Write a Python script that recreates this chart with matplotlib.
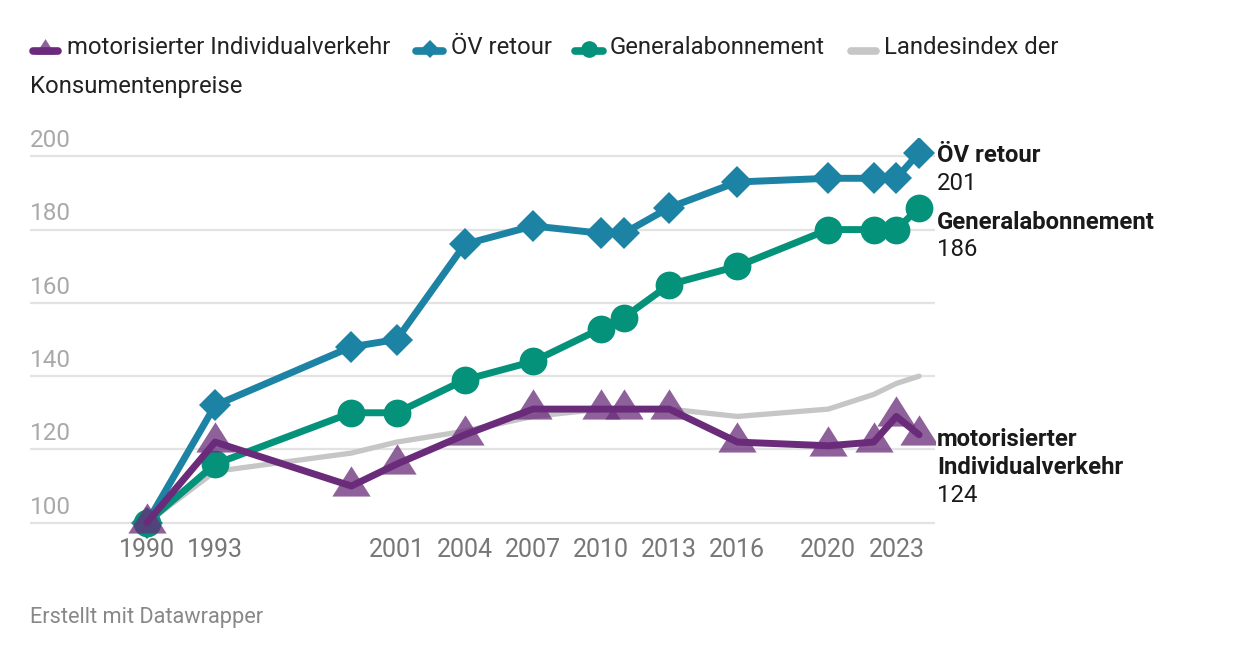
import matplotlib
matplotlib.use("Agg")
import matplotlib.pyplot as plt
from matplotlib.path import Path
from matplotlib.lines import Line2D
import matplotlib.transforms as mtransforms

plt.rcParams['font.family'] = ['Roboto', 'DejaVu Sans']

years = [1990, 1993, 1999, 2001, 2004, 2007, 2010, 2011, 2013, 2016, 2020, 2022, 2023, 2024]
oev_retour = [100, 132, 148, 150, 176, 181, 179, 179, 186, 193, 194, 194, 194, 201]
generalabo = [100, 116, 130, 130, 139, 144, 153, 156, 165, 170, 180, 180, 180, 186]
miv = [100, 122, 110, 116, 124, 131, 131, 131, 131, 122, 121, 122, 129, 124]
lik = [100, 114, 119, 122, 125, 129, 131, 131, 131, 129, 131, 135, 138, 140]

xtick_years = [1990, 1993, 2001, 2004, 2007, 2010, 2013, 2016, 2020, 2023]
ytick_vals = [100, 120, 140, 160, 180, 200]

series_names = ["motorisierter Individualverkehr", "ÖV retour", "Generalabonnement",
                "Landesindex der Konsumentenpreise"]

C_BLUE = '#1d83a4'
C_GREEN = '#05927a'
C_PURPLE = '#6a2c7a'
C_GREY = '#c6c6c6'

W, H = 1260, 660
fig = plt.figure(figsize=(W / 100, H / 100), dpi=100)

def px_x(x):
    return x / W

def px_y(y):
    return 1 - y / H

# axes: x 30..935 px, y 138..541 px
ax = fig.add_axes([px_x(30), px_y(541), px_x(935) - px_x(30), px_y(138) - px_y(541)])
ax.set_xlim(1984.85, 2024.7)
ax.set_ylim(95, 205)
ax.axis('off')

for v in ytick_vals:
    ax.axhline(v, color='#e3e3e3', lw=1.6, zorder=0)
    off = mtransforms.offset_copy(ax.get_yaxis_transform(), fig=fig, x=0, y=3, units='points')
    ax.text(0, v, str(v), transform=off, ha='left', va='bottom', fontsize=17.5, color='#a9a9a9')

xt = mtransforms.blended_transform_factory(ax.transData, fig.transFigure)
for yr in xtick_years:
    ax.text(yr, px_y(550), str(yr), transform=xt, ha='center', va='center', fontsize=18, color='#777777')

tri = Path([(0, 1), (-0.95, -0.5), (0.95, -0.5), (0, 1)],
           [Path.MOVETO, Path.LINETO, Path.LINETO, Path.CLOSEPOLY])

ax.plot(years, lik, color=C_GREY, lw=3.8, solid_capstyle='round', solid_joinstyle='round', zorder=2)
ax.plot(years, oev_retour, color=C_BLUE, lw=5, marker='D', markersize=16.5, markeredgewidth=0,
        solid_joinstyle='round', zorder=3)
ax.plot(years, generalabo, color=C_GREEN, lw=5, marker='o', markersize=20, markeredgewidth=0,
        solid_joinstyle='round', zorder=4)
ax.plot(years, miv, linestyle='none', marker=tri, markersize=29, markeredgewidth=0,
        color=C_PURPLE, alpha=0.75, zorder=5)
ax.plot(years, miv, color=C_PURPLE, lw=5, solid_capstyle='round', solid_joinstyle='round', zorder=6)

# end labels
lab_kw = dict(fontsize=17.2, color='#1a1a1a', ha='left', va='center')
fig.text(px_x(937), px_y(156), "ÖV retour", fontweight='bold', **lab_kw)
fig.text(px_x(937), px_y(184), str(oev_retour[-1]), **lab_kw)
fig.text(px_x(937), px_y(222), "Generalabonnement", fontweight='bold', **lab_kw)
fig.text(px_x(937), px_y(250), str(generalabo[-1]), **lab_kw)
fig.text(px_x(937), px_y(440), "motorisierter", fontweight='bold', **lab_kw)
fig.text(px_x(937), px_y(467), "Individualverkehr", fontweight='bold', **lab_kw)
fig.text(px_x(937), px_y(496), str(miv[-1]), **lab_kw)

# legend
leg_kw = dict(fontsize=17.2, color='#222222', ha='left', va='center')
ly = px_y(48)
def leg_line(x0, x1, color, marker=None, ms=0, alpha=1.0):
    fig.add_artist(Line2D([px_x(x0), px_x(x1)], [px_y(51), px_y(51)], transform=fig.transFigure,
                          color=color, lw=5.5, solid_capstyle='round'))
    if marker is not None:
        fig.add_artist(Line2D([px_x((x0 + x1) / 2)], [px_y(49)], transform=fig.transFigure,
                              color=color, marker=marker, markersize=ms, markeredgewidth=0,
                              linestyle='none', alpha=alpha))

leg_line(33, 58, C_PURPLE, tri, 15, 0.75)
fig.text(px_x(67), ly, series_names[0], **leg_kw)
leg_line(416, 443, C_BLUE, 'D', 9)
fig.text(px_x(451), ly, series_names[1], **leg_kw)
leg_line(575, 603, C_GREEN, 'o', 12)
fig.text(px_x(610), ly, series_names[2], **leg_kw)
leg_line(851, 876, C_GREY)
fig.text(px_x(884), ly, "Landesindex der", **leg_kw)
fig.text(px_x(30), px_y(87), "Konsumentenpreise", **leg_kw)

fig.text(px_x(30), px_y(617), "Erstellt mit Datawrapper", fontsize=15.7, color='#888888', ha='left', va='center')

fig.savefig('out.png', dpi=100)
